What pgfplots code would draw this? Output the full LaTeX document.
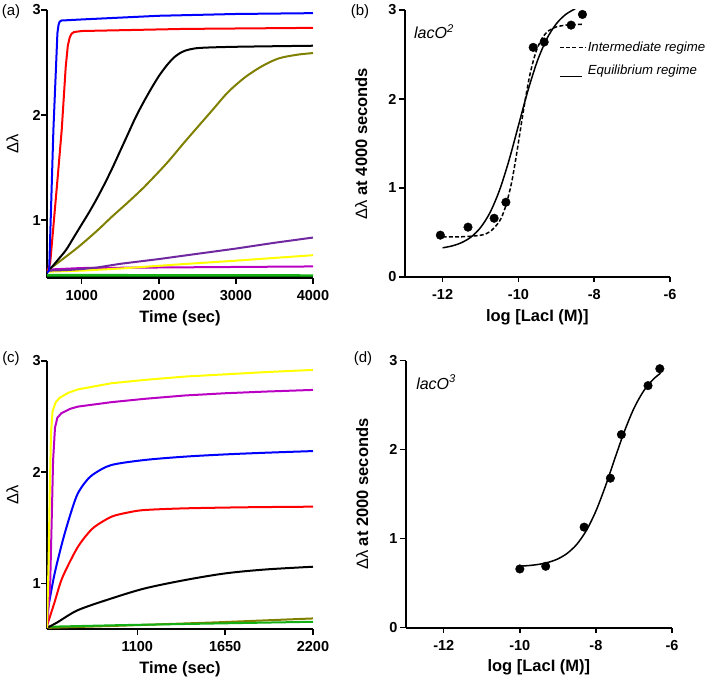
\documentclass[border=0pt]{standalone}
\usepackage{fontspec}
\setmainfont{Liberation Sans}
\usepackage{pgfplots}
\pgfplotsset{compat=1.18}
\definecolor{cblue}{RGB}{0,0,255}
\definecolor{cred}{RGB}{255,0,0}
\definecolor{colive}{RGB}{128,128,0}
\definecolor{cpurple}{RGB}{112,40,160}
\definecolor{cyellow}{RGB}{255,255,0}
\definecolor{cmagenta}{RGB}{185,0,195}
\definecolor{cgreen}{RGB}{20,175,20}
\definecolor{cdkgreen}{RGB}{0,110,0}
\pgfplotsset{
 gp/.style={
   scale only axis,
   anchor=south west,
   axis line style={-, line width=1.8pt},
   axis x line*=bottom, axis y line*=left,
   tick align=outside,
   major tick length=5.5pt,
   every tick/.style={black, line width=1.5pt},
   tick label style={font=\bfseries\fontsize{14.5}{16}\selectfont},
   /pgf/number format/assume math mode=true,
   /pgf/number format/1000 sep={},
   xticklabel style={yshift=-3.5pt},
   yticklabel style={inner sep=0.5pt},
   label style={font=\bfseries\fontsize{16.5}{18}\selectfont},
   xlabel style={at={(axis description cs:0.5,-0.15)},anchor=center},
   enlargelimits=false,
 },
 kin/.style={line width=2pt, no markers},
 fit/.style={line width=1.5pt, black, no markers},
 toplegend/.style={legend image code/.code={\draw[##1] (0pt,0pt) -- (25pt,0pt);}},
 lowlegend/.style={legend image code/.code={\draw[##1] (0pt,-6pt) -- (22pt,-6pt);}},
}
\begin{document}
\begin{tikzpicture}[x=1pt,y=1pt]
\useasboundingbox (0,0) rectangle (709,681);
% ---------------- (a)
\begin{axis}[gp, at={(47pt,403pt)}, width=266pt, height=268pt,
  xmin=550, xmax=4000, ymin=0.45, ymax=3,
  xtick={1000,2000,3000,4000}, ytick={1,2,3},
  xlabel={Time (sec)}, ylabel={\mdseries Δλ},
  ylabel style={at={(axis description cs:-0.13,0.5)},anchor=center}]
\addplot[kin, cdkgreen] coordinates {(550,0.465) (4000,0.465)};
\addplot[kin, cgreen] coordinates {(550,0.48) (2000,0.478) (4000,0.476)};
\addplot[kin, cmagenta] coordinates {(550,0.53) (1000,0.545) (2000,0.55) (3000,0.555) (4000,0.56)};
\addplot[kin, cyellow] coordinates {(550,0.51) (1000,0.52) (1500,0.54) (2268,0.58) (3000,0.615) (4000,0.667)};
\addplot[kin, cpurple] coordinates {(550,0.52) (800,0.525) (1000,0.535) (1200,0.55) (1500,0.585) (2000,0.63) (2268,0.657) (3000,0.73) (3500,0.785) (4000,0.835)};
\addplot[kin, colive, smooth] coordinates {(550,0.52) (700,0.6) (956,0.745) (1200,0.9) (1387,1.03) (1600,1.17) (1816,1.32) (2100,1.54) (2354,1.76) (2698,2.05) (2900,2.22) (3128,2.365) (3350,2.47) (3558,2.54) (3800,2.575) (4000,2.59)};
\addplot[kin, black, smooth] coordinates {(550,0.52) (613,0.555) (700,0.63) (800,0.72) (900,0.84) (1000,0.96) (1100,1.08) (1200,1.21) (1300,1.35) (1400,1.5) (1500,1.66) (1600,1.82) (1700,1.98) (1800,2.12) (1900,2.25) (2000,2.37) (2100,2.47) (2200,2.55) (2300,2.6) (2400,2.625) (2550,2.64) (3000,2.65) (4000,2.66)};
\addplot[kin, cred] coordinates {(550,0.5) (591,0.59) (640,1.0) (690,1.42) (741,1.86) (793,2.46) (820,2.66) (845,2.74) (870,2.775) (900,2.79) (1000,2.80) (2332,2.82) (4000,2.83)};
\addplot[kin, cblue] coordinates {(550,0.5) (578,0.52) (633,1.86) (685,2.78) (700,2.86) (715,2.89) (740,2.90) (1000,2.91) (2000,2.945) (3000,2.962) (4000,2.97)};
\end{axis}
% ---------------- (b)
\begin{axis}[gp, at={(404.7pt,404pt)}, width=265.3pt, height=267pt,
  xmin=-13, xmax=-6, ymin=0, ymax=3,
  xtick={-12,-10,-8,-6}, ytick={0,1,2,3},
  yticklabel style={xshift=-2pt},
  xlabel={log [LacI (M)]}, ylabel={{\mdseries Δλ} at 4000 seconds},
  ylabel style={at={(axis description cs:-0.164,0.5)},anchor=center},
  legend style={at={(rel axis cs:0.582,0.888)}, anchor=north west, draw=none, fill=none,
    font=\itshape\fontsize{13.2}{15}\selectfont, inner sep=0pt, row sep=8pt},
  legend cell align=left, toplegend]
\addplot[fit, smooth, dash pattern=on 4pt off 2.2pt] coordinates {(-12,0.450) (-11.5,0.452) (-11,0.469) (-10.75,0.509) (-10.5,0.626) (-10.35,0.777) (-10.2,1.02) (-10.1,1.247) (-10,1.51) (-9.9,1.782) (-9.8,2.04) (-9.7,2.266) (-9.6,2.44) (-9.5,2.573) (-9.35,2.70) (-9.2,2.767) (-9.0,2.81) (-8.75,2.83) (-8.5,2.838) (-8.3,2.84)};
\addlegendentry{Intermediate regime}
\addplot[fit, smooth, lowlegend] coordinates {(-12,0.328) (-11.75,0.349) (-11.5,0.386) (-11.25,0.449) (-11,0.555) (-10.75,0.723) (-10.5,0.973) (-10.25,1.308) (-10,1.700) (-9.75,2.092) (-9.5,2.427) (-9.25,2.677) (-9,2.845) (-8.75,2.951) (-8.5,3.014)};
\addlegendentry{Equilibrium regime}
\addplot[only marks, mark=*, mark size=4.3pt, black, forget plot] coordinates {(-12.06,0.47) (-11.33,0.56) (-10.64,0.66) (-10.33,0.84) (-9.61,2.58) (-9.32,2.64) (-8.61,2.83) (-8.31,2.95)};
\node[anchor=base west, inner sep=0pt, font=\itshape\fontsize{16}{18}\selectfont] at (rel axis cs:0.035,0.894) {lacO\textsuperscript{2}};
\end{axis}
% ---------------- (c)
\begin{axis}[gp, at={(47pt,52pt)}, width=266pt, height=268pt,
  xmin=535, xmax=2200, ymin=0.59, ymax=3,
  xtick={1100,1650,2200}, ytick={1,2,3},
  xlabel={Time (sec)}, ylabel={\mdseries Δλ},
  ylabel style={at={(axis description cs:-0.13,0.5)},anchor=center}]
\addplot[kin, colive] coordinates {(535,0.6) (1000,0.62) (1600,0.65) (2200,0.685)};
\addplot[kin, cgreen] coordinates {(535,0.61) (1000,0.625) (1600,0.64) (2200,0.655)};
\addplot[kin, black, smooth] coordinates {(535,0.6) (600,0.65) (729,0.76) (939,0.865) (1147,0.955) (1398,1.03) (1650,1.09) (1900,1.125) (2200,1.15)};
\addplot[kin, cred, smooth] coordinates {(535,0.62) (580,0.82) (625,1.03) (680,1.2) (729,1.33) (780,1.43) (834,1.51) (939,1.60) (1050,1.64) (1147,1.66) (1398,1.675) (1800,1.685) (2200,1.69)};
\addplot[kin, cblue, smooth] coordinates {(535,0.72) (583,1.09) (646,1.45) (719,1.78) (780,1.92) (834,1.99) (939,2.065) (1147,2.11) (1398,2.14) (1650,2.16) (1900,2.175) (2200,2.19)};
\addplot[kin, cmagenta] coordinates {(535,0.6) (555,1.0) (565,1.6) (573,2.1) (585,2.4) (600,2.49) (625,2.53) (680,2.57) (729,2.59) (939,2.63) (1147,2.66) (1398,2.69) (1650,2.71) (1900,2.725) (2200,2.74)};
\addplot[kin, cyellow] coordinates {(535,0.6) (545,1.2) (552,1.8) (560,2.35) (570,2.55) (590,2.63) (615,2.67) (670,2.715) (729,2.745) (939,2.80) (1147,2.83) (1398,2.86) (1650,2.88) (1900,2.90) (2200,2.92)};
\end{axis}
% ---------------- (d)
\begin{axis}[gp, at={(405.7pt,53.3pt)}, width=266.3pt, height=267pt,
  xmin=-13, xmax=-6, ymin=0, ymax=3,
  xtick={-12,-10,-8,-6}, ytick={0,1,2,3},
  yticklabel style={xshift=-2pt},
  xlabel={log [LacI (M)]}, ylabel={{\mdseries Δλ} at 2000 seconds},
  ylabel style={at={(axis description cs:-0.163,0.5)},anchor=center}]
\addplot[fit, smooth] coordinates {(-10,0.691) (-9.75,0.699) (-9.5,0.712) (-9.25,0.735) (-9,0.773) (-8.75,0.837) (-8.5,0.938) (-8.25,1.093) (-8,1.311) (-7.75,1.590) (-7.5,1.904) (-7.25,2.207) (-7,2.465) (-6.75,2.657) (-6.5,2.788) (-6.3,2.86)};
\addplot[only marks, mark=*, mark size=4.3pt, black] coordinates {(-10.0,0.66) (-9.32,0.69) (-8.31,1.13) (-7.62,1.68) (-7.33,2.17) (-6.63,2.72) (-6.32,2.91)};
\node[anchor=base west, inner sep=0pt, font=\itshape\fontsize{16}{18}\selectfont] at (rel axis cs:0.039,0.893) {lacO\textsuperscript{3}};
\end{axis}
% panel labels
\node[font=\fontsize{15}{17}\selectfont] at (11pt,669pt) {(a)};
\node[font=\fontsize{15}{17}\selectfont] at (360pt,669pt) {(b)};
\node[font=\fontsize{15}{17}\selectfont] at (11pt,322pt) {(c)};
\node[font=\fontsize{15}{17}\selectfont] at (363pt,322pt) {(d)};
\end{tikzpicture}
\end{document}
